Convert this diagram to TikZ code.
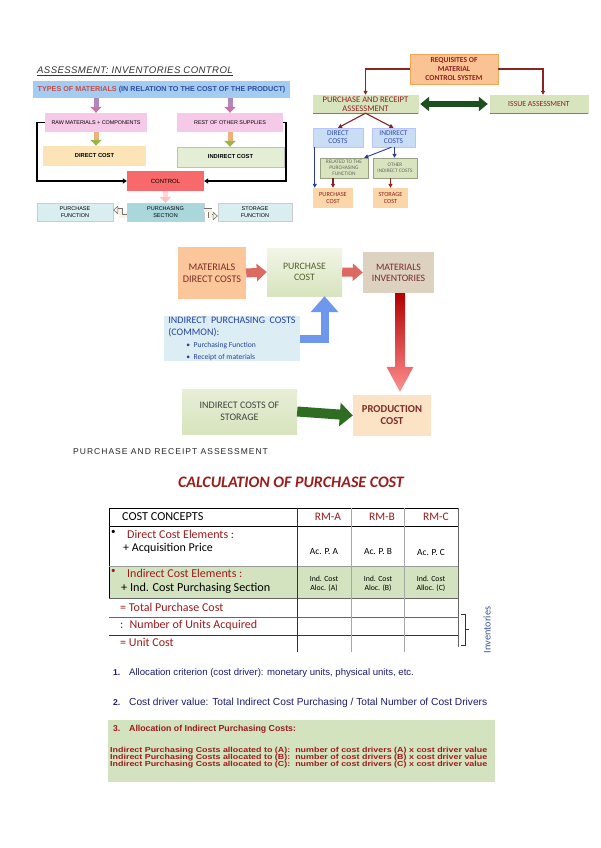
\documentclass[tikz,border=0pt]{standalone}
\usepackage{fontspec}
\setmainfont{Carlito}
\newfontfamily\arialf{Liberation Sans}
\usetikzlibrary{arrows.meta,calc}
\definecolor{tlblue}{HTML}{A4CBF0}
\definecolor{tltxtred}{HTML}{C0504D}
\definecolor{tltxtblue}{HTML}{2F4FA0}
\definecolor{pinkbox}{HTML}{F7C9E9}
\definecolor{orangebox}{HTML}{FCE4B6}
\definecolor{greenbox}{HTML}{E3EED5}
\definecolor{ctrlred}{HTML}{F8696B}
\definecolor{teallight}{HTML}{D8EEF0}
\definecolor{tealmid}{HTML}{A9D7DC}
\definecolor{reqorange}{HTML}{FAC393}
\definecolor{dred}{HTML}{8B2323}
\definecolor{olivebox}{HTML}{D7E4BD}
\definecolor{bluebox}{HTML}{C9DDF5}
\definecolor{bluetxt}{HTML}{2F4DB0}
\definecolor{peach}{HTML}{FBD6A8}
\definecolor{dkgreen}{HTML}{1E4F1E}
\definecolor{navyline}{HTML}{2B3A9A}
\definecolor{mdcfill}{HTML}{FBC699}
\definecolor{pcfill}{HTML}{E8EFD8}
\definecolor{pctxt}{HTML}{4F6228}
\definecolor{mifill}{HTML}{DDD1BF}
\definecolor{prodfill}{HTML}{FDE3C6}
\definecolor{ipcfill}{HTML}{DCEEF4}
\definecolor{ipctxt}{HTML}{2442A0}
\definecolor{icsfill}{HTML}{D6E4C2}
\definecolor{redarr}{HTML}{DC6A62}
\definecolor{bluearr}{HTML}{6E98EE}
\definecolor{grnarr}{HTML}{2F6E22}
\definecolor{tabred}{HTML}{9B1C1C}
\definecolor{tabgreen}{HTML}{D4E3BF}
\definecolor{navytxt}{HTML}{1C1C70}
\definecolor{invblue}{HTML}{3A5A9A}
\definecolor{midred}{HTML}{7B2C2C}
\definecolor{paleyel}{HTML}{F6F4DC}
\begin{document}
\begin{tikzpicture}[x=1pt,y=-1pt,
  bx/.style={inner sep=0pt, align=center},
  tl/.style={font=\arialf\fontsize{#1}{#1}\selectfont},
  cf/.style={font=\fontsize{#1}{#1}\selectfont},
  redln/.style={draw=dred, line width=1.1pt, -{Triangle[width=4pt,length=4pt]}},
  blueln/.style={draw=navyline, line width=0.9pt, -{Triangle[width=4pt,length=4pt]}},
  txtw/.style={anchor=west, inner sep=0pt}]
\useasboundingbox (0,0) rectangle (600,848);
\fill[white] (0,0) rectangle (600,848);

% ---------------- top left ----------------
\node[txtw, font=\arialf\itshape\fontsize{9.6}{9.6}\selectfont\addfontfeature{LetterSpace=4}, text=black!80] (tltitle) at (37,71) {\underline{ASSESSMENT: INVENTORIES CONTROL}};
\node[bx, fill=tlblue, minimum width=257pt, minimum height=17pt, font=\arialf\bfseries\fontsize{7.2}{7.2}\selectfont] (types) at (161.5,89.5)
  {\textcolor{tltxtred}{TYPES OF MATERIALS} \textcolor{tltxtblue}{(IN RELATION TO THE COST OF THE PRODUCT)}};
\node[bx, fill=pinkbox, minimum width=102pt, minimum height=19pt, tl=5.4] (rawmat) at (96,122.5) {RAW MATERIALS + COMPONENTS};
\node[bx, fill=pinkbox, minimum width=106pt, minimum height=19pt, tl=5.4] (restsup) at (230,122.5) {REST OF OTHER SUPPLIES};
\node[bx, fill=orangebox, minimum width=103pt, minimum height=20pt, font=\arialf\bfseries\fontsize{5.8}{5.8}\selectfont] (dcost) at (94.5,156) {DIRECT COST};
\node[bx, fill=greenbox, draw=black!25, minimum width=107pt, minimum height=20pt, font=\arialf\bfseries\fontsize{5.8}{5.8}\selectfont] (icost) at (230.5,157) {INDIRECT COST};
\node[bx, fill=ctrlred, minimum width=77pt, minimum height=20pt, tl=6] (control) at (165.5,181) {CONTROL};
\node[bx, fill=teallight, draw=black!20, minimum width=76pt, minimum height=18pt, tl=5.5] (pfunc) at (75,212) {PURCHASE\\[1pt]FUNCTION};
\node[bx, fill=tealmid, draw=black!20, minimum width=77pt, minimum height=18pt, tl=5.5] (psec) at (165.5,212) {PURCHASING\\[1pt]SECTION};
\node[bx, fill=teallight, draw=black!20, minimum width=74pt, minimum height=18pt, tl=5.5] (sfunc) at (255,212) {STORAGE\\[1pt]FUNCTION};

\draw[line width=5pt, draw=black!25!blue!30!pink, -{Triangle[width=11pt,length=6pt,color=violet!40!pink]}] (rawmat.north |- types.south) -- (rawmat.north);
\draw[line width=5pt, draw=black!25!blue!30!pink, -{Triangle[width=11pt,length=6pt,color=violet!40!pink]}] (restsup.north |- types.south) -- (restsup.north);
\draw[line width=5pt, draw=brown!50!orange!60, -{Triangle[width=11pt,length=6pt,color=olive!60!green!70]}] (rawmat.south) -- (rawmat.south |- dcost.north);
\draw[line width=5pt, draw=brown!50!orange!60, -{Triangle[width=11pt,length=6pt,color=olive!60!green!70]}] (restsup.south) -- (restsup.south |- icost.north);
\draw[line width=1.6pt, -{Triangle[width=5pt,length=4pt]}] (rawmat.west) -- ++(-8,0) |- (control.west);
\draw[line width=1.6pt, -{Triangle[width=5pt,length=4pt]}] (restsup.east) -- ++(3,0) |- (control.east);
\draw[line width=5pt, draw=pink!60, -{Triangle[width=11pt,length=6pt,color=pink!80!red!60]}] (control.south) -- (psec.north);
\draw[line width=0.6pt, draw=black!55, double=paleyel, double distance=3pt, -{Triangle[open,width=9pt,length=5pt,fill=paleyel]}] ([yshift=-4pt]psec.west) -- ++(-6,0) |- ([yshift=2pt]pfunc.east);
\draw[line width=0.6pt, draw=black!55, double=paleyel, double distance=3pt, -{Triangle[open,width=9pt,length=5pt,fill=paleyel]}] ([yshift=2pt]psec.east) -- ++(6,0) |- ([yshift=-4pt]sfunc.west);

% ---------------- top right ----------------
\node[bx, fill=reqorange, draw=orange!70!brown!70, minimum width=88pt, minimum height=30pt, font=\bfseries\fontsize{7.6}{8.6}\selectfont, text=dred] (req) at (454,69) {REQUISITES OF\\MATERIAL\\CONTROL SYSTEM};
\node[bx, fill=olivebox, draw=olivebox, minimum width=105pt, minimum height=18pt, font=\fontsize{8.6}{8.6}\selectfont, text=dred] (prasm) at (365.5,104) {PURCHASE AND RECEIPT\\ASSESSMENT};
\node[bx, fill=olivebox, draw=olivebox, minimum width=98pt, minimum height=18pt, cf=7.8, text=dred] (issue) at (539,104) {ISSUE ASSESSMENT};
\draw[dred!70, line width=0.8pt] (prasm.south west) -- (prasm.south east);
\draw[dred!70, line width=0.8pt] (issue.south west) -- (issue.south east);
\draw[redln] (req.west) -| (prasm.north);
\draw[redln] (req.east) -| ([xshift=4pt]issue.north);
\draw[line width=6pt, draw=dkgreen, {Triangle[width=14pt,length=9pt]}-{Triangle[width=14pt,length=9pt]}] ([xshift=2pt]prasm.east) -- ([xshift=-2pt]issue.west);
\node[bx, fill=bluebox, draw=bluebox!70!blue!60, minimum width=50pt, minimum height=19pt, font=\fontsize{7.4}{8}\selectfont, text=bluetxt] (dcosts) at (338,137.5) {DIRECT\\COSTS};
\node[bx, fill=bluebox, draw=bluebox!70!blue!60, minimum width=43pt, minimum height=19pt, font=\fontsize{7.4}{8}\selectfont, text=bluetxt] (icosts) at (393.5,137.5) {INDIRECT\\COSTS};
\draw[redln] (prasm.south) -- (dcosts.north);
\draw[redln] (prasm.south) -- (icosts.north);
\node[bx, fill=olivebox, draw=olivebox!70!black, minimum width=48pt, minimum height=20pt, font=\fontsize{5.4}{5.8}\selectfont, text=black!60] (related) at (344,168) {RELATED TO THE\\PURCHASING\\FUNCTION};
\node[bx, fill=olivebox, draw=olivebox!70!black, minimum width=44pt, minimum height=20pt, font=\fontsize{5.3}{6.5}\selectfont, text=black!60] (otherind) at (395,168) {OTHER\\INDIRECT COSTS};
\node[bx, fill=peach, minimum width=40pt, minimum height=20pt, font=\fontsize{6.3}{7.5}\selectfont, text=dred] (pcost2) at (333,198) {PURCHASE\\COST};
\node[bx, fill=peach, minimum width=35pt, minimum height=20pt, font=\fontsize{6.3}{7.5}\selectfont, text=dred] (scost) at (390.5,198) {STORAGE\\COST};
\draw[blueln] ([xshift=2pt]dcosts.south west) -- ([xshift=2pt]pcost2.north west);
\draw[blueln] ([xshift=1pt]icosts.south) -- ([xshift=1pt]icosts.south |- otherind.north);
\draw[blueln] ([xshift=-2pt]icosts.south) -- ([xshift=-4pt]related.north east);
\draw[redln] (pcost2.north |- related.south) -- (pcost2.north);
\draw[redln] (scost.north |- otherind.south) -- (scost.north);

% ---------------- middle ----------------
\node[bx, fill=mdcfill, minimum width=68pt, minimum height=52pt, font=\fontsize{10.2}{11.5}\selectfont, text=midred] (mdc) at (212,273) {MATERIALS\\DIRECT COSTS};
\node[bx, top color=pcfill!60!white, bottom color=olivebox, minimum width=75pt, minimum height=48pt, font=\fontsize{9.8}{11}\selectfont, text=pctxt] (pc) at (304.5,272) {PURCHASE\\COST};
\node[bx, fill=mifill, minimum width=71pt, minimum height=41pt, font=\fontsize{9.8}{11}\selectfont, text=midred] (mi) at (398.5,272.5) {MATERIALS\\INVENTORIES};
\node[bx, fill=prodfill, minimum width=78pt, minimum height=41pt, font=\bfseries\fontsize{10.6}{12}\selectfont, text=midred] (prod) at (392,415.5) {PRODUCTION\\COST};
\node[bx, fill=ipcfill, minimum width=136pt, minimum height=45pt, text=ipctxt, align=left] (ipc) at (232,338.5)
  {\fontsize{10}{11}\selectfont INDIRECT\ \ PURCHASING\ \ COSTS\\
   \fontsize{10}{10}\selectfont (COMMON):\\
   \fontsize{7.6}{10}\selectfont\hspace{18pt}\textbullet\ \ Purchasing Function\\
   \fontsize{7.6}{9.5}\selectfont\hspace{18pt}\textbullet\ \ Receipt of materials};
\node[bx, top color=olivebox!60!white, bottom color=olivebox, minimum width=115pt, minimum height=45pt, font=\fontsize{10}{11.5}\selectfont, text=black!75] (ics) at (239.5,411.5) {INDIRECT COSTS OF\\STORAGE};

\draw[line width=9pt, draw=redarr, -{Triangle[width=17pt,length=10pt]}] (mdc.east) -- (pc.west);
\draw[line width=9pt, draw=redarr, -{Triangle[width=17pt,length=10pt]}] (pc.east) -- (mi.west);
\shade[top color=red!70!black, bottom color=red!25!pink]
  ($(mi.south)+(-3.5,0)$) -- ($(mi.south)+(6.5,0)$) -- ($(prod.north)+(13,-28)$) -- ($(prod.north)+(21.5,-28)$)
  -- ($(prod.north)+(8,-3)$) -- ($(prod.north)+(-5.5,-28)$) -- ($(prod.north)+(3,-28)$) -- cycle;
\draw[line width=8pt, draw=bluearr, line join=miter, -{Triangle[width=27pt,length=16pt]}] (ipc.east) -| ([xshift=20pt]pc.south);
\draw[line width=10pt, draw=grnarr, -{Triangle[width=23pt,length=13pt]}] (ics.east) -- (prod.west);

% ---------------- section label ----------------
\node[txtw, font=\arialf\fontsize{8.5}{8.5}\selectfont\addfontfeature{LetterSpace=12}, text=black!85] (prlabel) at (73,452) {PURCHASE AND RECEIPT ASSESSMENT};

% ---------------- table ----------------
\node[font=\bfseries\itshape\fontsize{16}{16}\selectfont, text=tabred] (calc) at (291,482) {CALCULATION OF PURCHASE COST};
\fill[tabgreen] (109,566) rectangle (458,598);
\draw[black, line width=0.8pt] (109,508) -- (458,508);
\draw[black, line width=0.8pt] (109,526) -- (458,526);
\draw[black, line width=0.7pt] (109,508) -- (109,598);
\draw[black!40, line width=0.5pt] (109,566) -- (458,566);
\draw[black!60, line width=0.6pt] (109,598) -- (458,598) (109,617) -- (458,617);
\draw[black!80, line width=0.6pt] (109,635) -- (458,635);
\draw[black!80, line width=0.6pt] (297,508) -- (297,652);
\draw[black!35, line width=0.5pt] (351,508) -- (351,652) (404,508) -- (404,652);
\draw[black!60, line width=0.6pt] (458,508) -- (458,647);

\node[txtw, cf=12.2] (cc) at (122,517) {COST CONCEPTS};
\node[cf=11.5, text=tabred] (rma) at (328,517) {RM-A};
\node[cf=11.5, text=tabred] (rmb) at (382,517) {RM-B};
\node[cf=11.5, text=tabred] (rmc) at (436,517) {RM-C};
\node[txtw, cf=9] (b1) at (111,532) {\textbullet};
\node[txtw, cf=12, text=tabred] (dce) at (127,534) {Direct Cost Elements :};
\node[txtw, cf=12] (acq) at (123,548) {+ Acquisition Price};
\node[cf=9.4] (apa) at (324,552) {Ac. P. A};
\node[cf=9.4] (apb) at (378,552) {Ac. P. B};
\node[cf=9.4] (apc) at (431,552) {Ac. P. C};
\node[txtw, cf=9, text=tabred] (b2) at (111,571) {\textbullet};
\node[txtw, cf=12, text=tabred] (ice) at (127,573) {Indirect Cost Elements :};
\node[txtw, cf=12.2] (icps) at (121,588) {+ Ind. Cost Purchasing Section};
\node[bx, font=\fontsize{7.8}{9.5}\selectfont] (ia) at (324,584) {Ind. Cost\\Aloc. (A)};
\node[bx, font=\fontsize{7.8}{9.5}\selectfont] (ib) at (378,584) {Ind. Cost\\Aloc. (B)};
\node[bx, font=\fontsize{7.8}{9.5}\selectfont] (ic) at (431,584) {Ind. Cost\\Alloc. (C)};
\node[txtw, cf=12, text=tabred] (tpc) at (120,607) {= Total Purchase Cost};
\node[txtw, cf=12, text=tabred] (nua) at (120,625) {: \ Number of Units Acquired};
\node[txtw, cf=12, text=tabred] (uc) at (120,642) {= Unit Cost};
\draw[line width=0.7pt, black!80] (461,614) -- (465,614) -- (465,645) -- (461,645);
\draw[line width=0.7pt, black!80] (465,629.5) -- (469,629.5);
\node[rotate=90, cf=10.3, text=invblue] (inv) at (487,630) {Inventories};

% ---------------- notes ----------------
\node[txtw, font=\arialf\bfseries\fontsize{8.5}{8.5}\selectfont, text=navytxt] (n1) at (113,673) {1.};
\node[txtw, font=\arialf\fontsize{9.6}{9.6}\selectfont, text=navytxt] (t1) at (129,673) {Allocation criterion (cost driver): monetary units, physical units, etc.};
\node[txtw, font=\arialf\bfseries\fontsize{8.5}{8.5}\selectfont, text=navytxt] (n2) at (113,703) {2.};
\node[txtw, font=\arialf\fontsize{10.2}{10.2}\selectfont, text=navytxt] (t2) at (129,703) {Cost driver value: Total Indirect Cost Purchasing / Total Number of Cost Drivers};
\node[fill=tabgreen, minimum width=387pt, minimum height=62pt, inner sep=0pt] (box3) at (301.5,751) {};
\node[txtw, font=\arialf\bfseries\fontsize{8.5}{8.5}\selectfont, text=tabred] (n3) at (113,729) {3.};
\node[txtw, font=\arialf\bfseries\fontsize{8.75}{8.75}\selectfont, text=tabred] (t3) at (129,729) {Allocation of Indirect Purchasing Costs:};
\node[txtw, font=\arialf\bfseries\fontsize{7.3}{7.3}\selectfont, text=tabred] (alA) at (110,751)
  {\scalebox{1.22}[1]{Indirect Purchasing Costs allocated to (A): \ number of cost drivers (A) x cost driver value}};
\node[txtw, font=\arialf\bfseries\fontsize{7.3}{7.3}\selectfont, text=tabred] (alB) at (110,758)
  {\scalebox{1.22}[1]{Indirect Purchasing Costs allocated to (B): \ number of cost drivers (B) x cost driver value}};
\node[txtw, font=\arialf\bfseries\fontsize{7.3}{7.3}\selectfont, text=tabred] (alC) at (110,765)
  {\scalebox{1.22}[1]{Indirect Purchasing Costs allocated to (C): \ number of cost drivers (C) x cost driver value}};
\end{tikzpicture}
\end{document}
